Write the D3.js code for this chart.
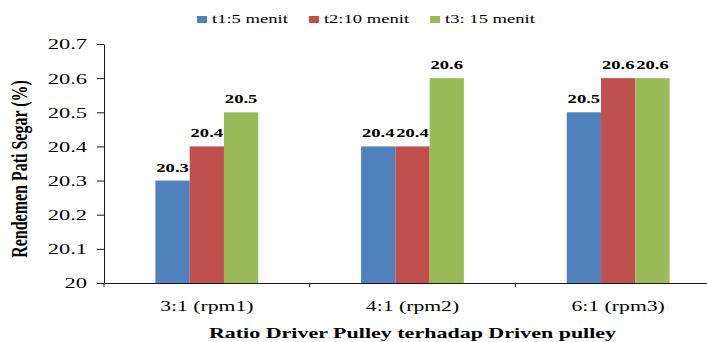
<!DOCTYPE html>
<html>
<head>
<meta charset="utf-8">
<script src="https://cdn.jsdelivr.net/npm/d3@7/dist/d3.min.js"></script>
<style>
  html, body { margin: 0; padding: 0; background: #fff; }
  svg { display: block; }
  text { font-family: "Liberation Serif", "Times New Roman", serif; fill: #000; }
</style>
</head>
<body>
<svg id="chart" width="707" height="342"></svg>
<script>
// Ratio categories (x axis)
const categories = ["3:1 (rpm1)", "4:1 (rpm2)", "6:1 (rpm3)"];
// Series (processing time)
const seriesNames = ["t1:5 menit", "t2:10 menit", "t3: 15 menit"];
const seriesColors = ["#4F81BD", "#C0504D", "#9BBB59"];
// Values per series, one per category
const t1Values = [20.3, 20.4, 20.5];
const t2Values = [20.4, 20.4, 20.6];
const t3Values = [20.5, 20.6, 20.6];
// Y axis ticks
const yTicks = [20, 20.1, 20.2, 20.3, 20.4, 20.5, 20.6, 20.7];

const seriesValues = [t1Values, t2Values, t3Values];
const SX = 1.55; // horizontal text stretch

const svg = d3.select("#chart");
const plotLeft = 104, plotRight = 721, plotTop = 44, plotBottom = 283;

const y = d3.scaleLinear().domain([20, 20.7]).range([plotBottom, plotTop]);
const x0 = d3.scaleBand().domain(categories).range([plotLeft, plotRight]).paddingInner(0).paddingOuter(0);
const x1 = d3.scaleBand().domain(seriesNames).range([0, x0.bandwidth()]).paddingInner(0).paddingOuter(1.5);

const rows = categories.map((c, i) => ({
  cat: c,
  vals: seriesNames.map((s, j) => ({ s, j, v: seriesValues[j][i] }))
}));

// Bars
const groups = svg.append("g").selectAll("g").data(rows).join("g")
  .attr("transform", d => `translate(${x0(d.cat)},0)`);
groups.selectAll("rect").data(d => d.vals).join("rect")
  .attr("x", d => x1(d.s))
  .attr("width", x1.bandwidth())
  .attr("y", d => y(d.v))
  .attr("height", d => y(20) - y(d.v))
  .attr("fill", d => seriesColors[d.j]);

// Value labels
groups.selectAll("text.val").data(d => d.vals).join("text")
  .attr("class", "val")
  .attr("transform", d => `translate(${x1(d.s) + x1.bandwidth() / 2},${y(d.v) - 9}) scale(${SX},1)`)
  .attr("text-anchor", "middle")
  .style("font-size", "12px")
  .style("font-weight", "bold")
  .text(d => d.v.toFixed(1));

// Y axis
const yAxis = svg.append("g").attr("transform", `translate(${plotLeft},0)`)
  .call(d3.axisLeft(y).tickValues(yTicks).tickSize(7).tickSizeOuter(0)
    .tickFormat(d => d3.format("")(+d.toFixed(1))));
yAxis.selectAll("path, line").attr("stroke", "#1a1a1a");
yAxis.selectAll("text")
  .attr("x", -17 / SX)
  .attr("dy", "0.34em")
  .attr("transform", `scale(${SX},1)`)
  .style("font-size", "14.5px")
  .style("font-family", "'Liberation Serif', serif");

// X axis: labels at category centres, ticks at category boundaries
const xAxis = svg.append("g").attr("transform", `translate(0,${plotBottom})`)
  .call(d3.axisBottom(x0).tickSize(0).tickSizeOuter(0));
xAxis.select("path").attr("stroke", "#1a1a1a");
xAxis.selectAll("text")
  .attr("y", 28)
  .attr("dy", 0)
  .attr("transform", `scale(${SX},1)`)
  .style("font-size", "14px")
  .style("font-family", "'Liberation Serif', serif");
const bounds = [x0(categories[0])].concat(categories.map(c => x0(c) + x0.bandwidth()));
xAxis.selectAll("line.bound").data(bounds).join("line")
  .attr("class", "bound")
  .attr("x1", d => d).attr("x2", d => d)
  .attr("y1", 0).attr("y2", 4)
  .attr("stroke", "#1a1a1a");

// Axis titles
svg.append("text")
  .attr("transform", `translate(${(plotLeft + plotRight) / 2},338) scale(${SX},1)`)
  .attr("text-anchor", "middle")
  .style("font-size", "14.2px")
  .style("font-weight", "bold")
  .text("Ratio Driver Pulley terhadap Driven pulley");

svg.append("text")
  .attr("transform", `translate(26.5,169) scale(1.45,1) rotate(-90)`)
  .attr("text-anchor", "middle")
  .style("font-size", "16px")
  .style("font-weight", "bold")
  .text("Rendemen Pati Segar (%)");

// Legend
const legend = svg.append("g");
let lx = 197;
seriesNames.forEach((s, j) => {
  legend.append("rect")
    .attr("x", lx).attr("y", 16).attr("width", 10).attr("height", 7)
    .attr("fill", seriesColors[j]);
  const t = legend.append("text")
    .attr("transform", `translate(${lx + 15},22.5) scale(${SX},1)`)
    .style("font-size", "12px")
    .text(s);
  lx += 15 + t.node().getComputedTextLength() * SX + 21;
});
</script>
</body>
</html>
